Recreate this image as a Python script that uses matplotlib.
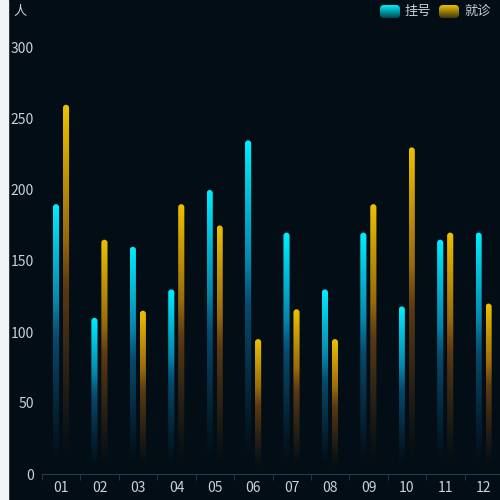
import numpy as np
import matplotlib.pyplot as plt
from matplotlib.patches import FancyBboxPatch, Rectangle

plt.rcParams['font.family'] = ['Noto Sans CJK SC', 'DejaVu Sans']

months = ['01', '02', '03', '04', '05', '06', '07', '08', '09', '10', '11', '12']
guahao = [190, 110, 160, 130, 200, 235, 170, 130, 170, 118, 165, 170]
jiuzhen = [260, 165, 115, 190, 175, 95, 116, 95, 190, 230, 170, 120]
yticks = [0, 50, 100, 150, 200, 250, 300]

bg = '#020d15'
txt = '#c9d1d9'
axis_col = '#1b4257'


def grad_img(top, mid, n=256):
    # rows go bottom -> top
    t = np.linspace(0, 1, n)[:, None]
    top = np.array(top) / 255.0
    mid = np.array(mid) / 255.0
    rgb = np.where(t > 0.5, mid + (top - mid) * (t - 0.5) / 0.5, mid)
    alpha = np.clip((t - 0.03) / 0.6, 0, 1) ** 1.2
    img = np.zeros((n, 1, 4))
    img[:, 0, :3] = rgb
    img[:, 0, 3] = alpha[:, 0]
    return img


cyan_top, cyan_mid = (0, 238, 255), (8, 95, 140)
gold_top, gold_mid = (238, 192, 0), (120, 72, 18)

fig = plt.figure(figsize=(5, 5), dpi=100, facecolor=bg)
fig.patches.append(Rectangle((0, 0), 8 / 500, 1, transform=fig.transFigure,
                             color='#f0f3f8', zorder=0))

ax_w, ax_h = 461, 426
ax = fig.add_axes([42 / 500, 26 / 500, ax_w / 500, ax_h / 500])
ax.set_facecolor(bg)

x = np.arange(len(months))
w = 0.16
# y-units per x-unit for the same pixel length, so the caps stay round
aspect = (300 / ax_h) / (len(months) / ax_w)
series = [(guahao, -0.135, cyan_top, cyan_mid), (jiuzhen, 0.125, gold_top, gold_mid)]
for vals, off, ctop, cmid in series:
    bars = ax.bar(x + off, vals, w, color='none', edgecolor='none')
    img = grad_img(ctop, cmid)
    for b in bars:
        bx, bw, bh = b.get_x(), b.get_width(), b.get_height()
        clip = FancyBboxPatch((bx, 0), bw, bh,
                              boxstyle='round,pad=0,rounding_size=%f' % (bw / 2),
                              mutation_aspect=aspect,
                              transform=ax.transData, facecolor='none', edgecolor='none')
        ax.add_patch(clip)
        im = ax.imshow(img, extent=[bx, bx + bw, 0, bh], aspect='auto',
                       origin='lower', interpolation='bilinear', zorder=2)
        im.set_clip_path(clip)

ax.set_xlim(-0.5, len(months) - 0.5)
ax.set_ylim(0, 300)
ax.set_xticks(x)
ax.set_xticklabels(months)
ax.set_xticks(np.arange(-0.5, len(months), 1), minor=True)
ax.set_yticks(yticks)
ax.tick_params(axis='x', which='major', length=0, colors=txt, labelsize=10, pad=5)
ax.tick_params(axis='x', which='minor', length=4, color=axis_col)
ax.tick_params(axis='y', length=0, colors=txt, labelsize=10, pad=6)
for s in ['top', 'right', 'left']:
    ax.spines[s].set_visible(False)
ax.spines['bottom'].set_color(axis_col)

fig.text(13 / 500, 1 - 11 / 500, '人', color=txt, fontsize=9.5, va='center', ha='left')

# legend
bg_rgb = np.array([2, 13, 21]) / 255.0
for (lx, label, ctop) in [(380, '挂号', cyan_top), (439, '就诊', gold_top)]:
    lax = fig.add_axes([lx / 500, 1 - 18 / 500, 20 / 500, 13 / 500])
    lax.axis('off')
    t = np.linspace(0, 1, 64)[:, None]
    c1 = np.array(ctop) / 255.0
    sw = np.zeros((64, 1, 3))
    sw[:, 0, :] = bg_rgb + (c1 - bg_rgb) * (0.25 + 0.75 * t)
    im = lax.imshow(sw, extent=[0, 1, 0, 1], aspect='auto', origin='lower')
    clip = FancyBboxPatch((0, 0), 1, 1, boxstyle='round,pad=0,rounding_size=0.2',
                          mutation_aspect=1.5, transform=lax.transAxes,
                          facecolor='none', edgecolor='none')
    lax.add_patch(clip)
    im.set_clip_path(clip)
    fig.text((lx + 25) / 500, 1 - 11 / 500, label, color=txt, fontsize=9.5,
             va='center', ha='left')

fig.savefig('out.png', facecolor=bg)
